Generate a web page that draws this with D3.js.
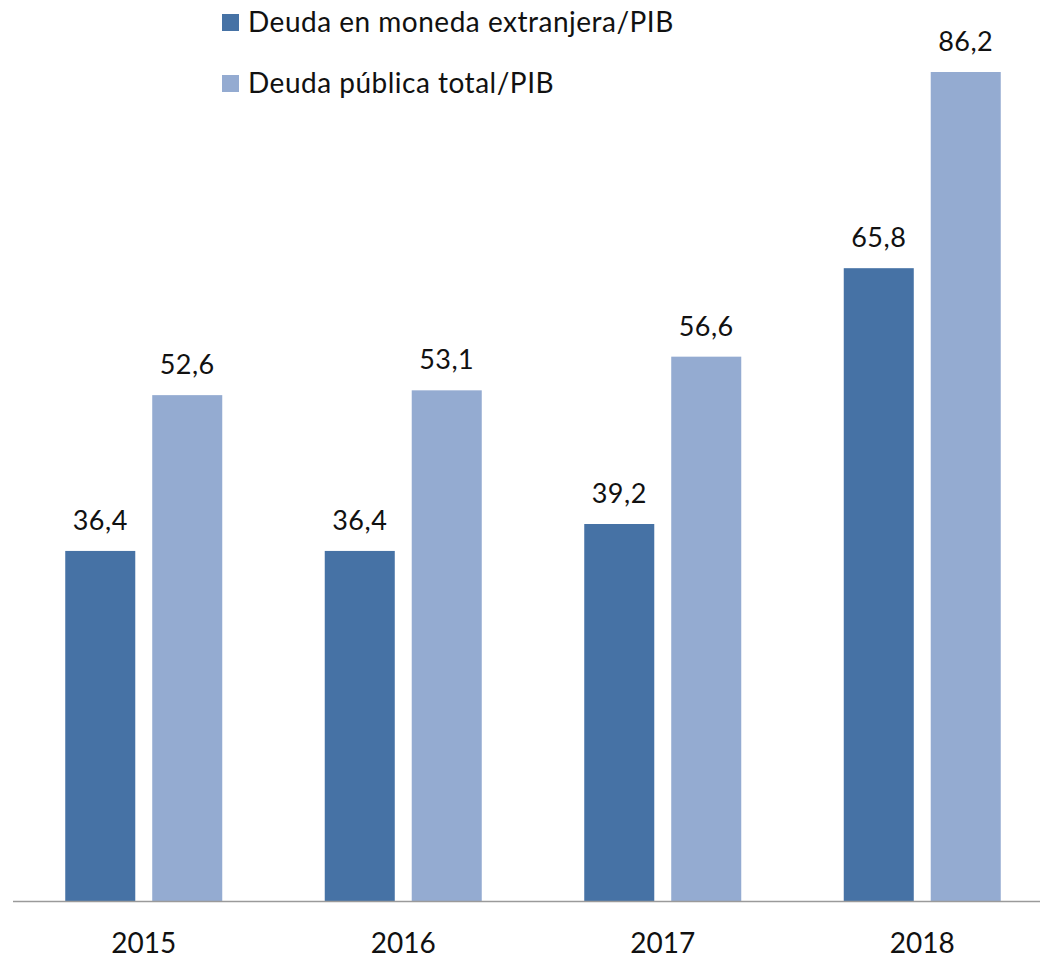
<!DOCTYPE html>
<html>
<head>
<meta charset="utf-8">
<script src="https://cdn.jsdelivr.net/npm/d3@7"></script>
<style>
  body { margin: 0; background: #fff; }
  svg { display: block; font-family: Lato, "Open Sans", sans-serif; }
</style>
</head>
<body>
<svg id="chart" width="1040" height="959"></svg>
<script>
// data
var years = ["2015", "2016", "2017", "2018"]
var seriesNames = ["Deuda en moneda extranjera/PIB", "Deuda pública total/PIB"]
var deudaExtranjera = [36.4, 36.4, 39.2, 65.8]
var deudaTotal = [52.6, 53.1, 56.6, 86.2]
var seriesColors = ["#4672a5", "#94abd1"]

var dataReady = years.map(function(y, i) {
  return {
    year: y,
    values: [
      {name: seriesNames[0], value: deudaExtranjera[i]},
      {name: seriesNames[1], value: deudaTotal[i]}
    ]
  }
})

var svg = d3.select("#chart")

var xScale = d3.scaleBand()
    .domain(years)
    .range([14, 1052])
    .paddingInner(0.395)
    .paddingOuter(0.1975)

var xInner = d3.scaleBand()
    .domain(seriesNames)
    .range([0, xScale.bandwidth()])
    .paddingInner(0.195)

var yScale = d3.scaleLinear()
    .domain([0, 86.2])
    .range([901, 72])

var color = d3.scaleOrdinal()
    .domain(seriesNames)
    .range(seriesColors)

var fmt = function(v) { return d3.format(".1f")(v).replace(".", ",") }

// bars
var groups = svg.selectAll("g.year")
  .data(dataReady)
  .enter()
  .append("g")
    .attr("class", "year")
    .attr("transform", function(d) { return "translate(" + xScale(d.year) + ",0)" })

groups.selectAll("rect")
  .data(function(d) { return d.values })
  .enter()
  .append("rect")
    .attr("x", function(d) { return xInner(d.name) })
    .attr("y", function(d) { return yScale(d.value) })
    .attr("width", xInner.bandwidth())
    .attr("height", function(d) { return yScale(0) - yScale(d.value) })
    .attr("fill", function(d) { return color(d.name) })

groups.selectAll("text.val")
  .data(function(d) { return d.values })
  .enter()
  .append("text")
    .attr("class", "val")
    .attr("x", function(d) { return xInner(d.name) + xInner.bandwidth() / 2 })
    .attr("y", function(d) { return yScale(d.value) - 21 })
    .attr("text-anchor", "middle")
    .style("font-size", "27px")
    .style("letter-spacing", "0.5px")
    .style("fill", "#111")
    .text(function(d) { return fmt(d.value) })

// axis line
var xAxis = d3.axisBottom(xScale).tickSize(0).tickPadding(0)
var axisG = svg.append("g")
    .attr("transform", "translate(0," + yScale(0) + ")")
    .call(xAxis)
axisG.select(".domain")
    .attr("d", "M13,0.5H1040")
    .attr("stroke", "#9a9a9a")
    .attr("stroke-width", 1.5)
axisG.selectAll(".tick text")
    .attr("y", 52)
    .attr("dy", 0)
    .style("font-size", "28px")
    .style("font-family", "Lato, sans-serif")
    .style("fill", "#111")

// legend
var legend = svg.selectAll("g.legend")
  .data(seriesNames)
  .enter()
  .append("g")
    .attr("class", "legend")
    .attr("transform", function(d, i) { return "translate(222," + (14 + i * 61) + ")" })

legend.append("rect")
    .attr("width", 17)
    .attr("height", 17)
    .attr("fill", function(d) { return color(d) })

legend.append("text")
    .attr("x", 26)
    .attr("y", 18)
    .style("font-size", "28px")
    .style("letter-spacing", "0.5px")
    .style("fill", "#111")
    .text(function(d) { return d })
</script>
</body>
</html>
